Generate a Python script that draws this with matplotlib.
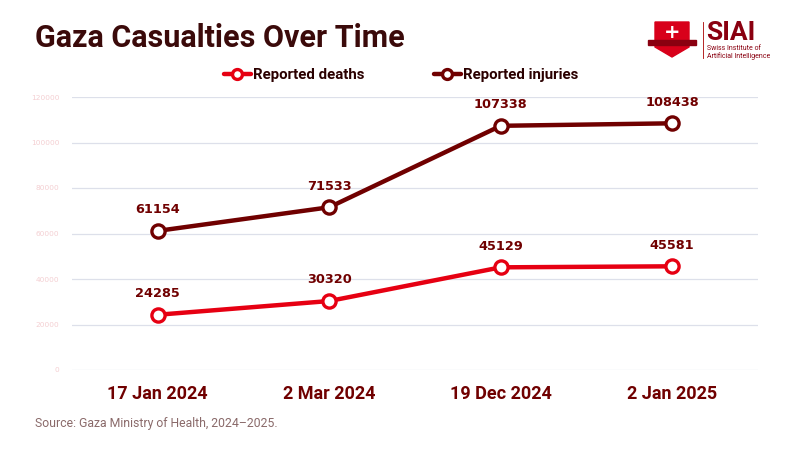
import matplotlib
matplotlib.use("Agg")
import matplotlib.pyplot as plt
from matplotlib import font_manager
from matplotlib.patches import Polygon, Rectangle

names = {f.name for f in font_manager.fontManager.ttflist}
COND = "Liberation Sans Narrow" if "Liberation Sans Narrow" in names else "Roboto"

categories = ["17 Jan 2024", "2 Mar 2024", "19 Dec 2024", "2 Jan 2025"]
deaths = [24285, 30320, 45129, 45581]
injuries = [61154, 71533, 107338, 108438]
yticks = [0, 20000, 40000, 60000, 80000, 100000, 120000]

C_DEATH = "#e60012"
C_INJ = "#700000"

fig = plt.figure(figsize=(8, 4.5), dpi=100)
ax = fig.add_axes([72 / 800, 1 - 370 / 450, 686 / 800, 273 / 450])

x = list(range(len(categories)))
for vals, col, lab in [(deaths, C_DEATH, "Reported deaths"), (injuries, C_INJ, "Reported injuries")]:
    ax.plot(x, vals, color=col, lw=3.2, marker="o", ms=9.5, mfc="white", mec=col, mew=2.4,
            label=lab, zorder=3, solid_capstyle="round")
    for xi, v in zip(x, vals):
        ax.annotate(f"{v}", (xi, v), xytext=(0, 10.5), textcoords="offset points", ha="center",
                    va="bottom", fontsize=9.3, fontweight="bold", color=C_INJ, family="DejaVu Sans")

ax.set_xlim(-0.5, 3.5)
ax.set_ylim(0, 120000)
ax.set_yticks(yticks)
ax.set_yticklabels([str(t) for t in yticks], fontsize=5.3, color="#f4cfd2", family="DejaVu Sans")
ax.set_xticks(x)
ax.set_xticklabels(categories, fontsize=13, fontweight="bold", color=C_INJ, family=COND)
ax.tick_params(axis="both", length=0)
ax.tick_params(axis="x", pad=11)
ax.tick_params(axis="y", pad=9)
ax.grid(axis="y", color="#dde0ea", lw=0.9)
ax.set_axisbelow(True)
for s in ax.spines.values():
    s.set_visible(False)

leg = fig.legend(loc="center", bbox_to_anchor=(401 / 800, 1 - 75 / 450), ncol=2, frameon=False,
                 prop={"family": COND, "weight": "bold", "size": 10.8}, handlelength=1.8,
                 handletextpad=0.15, columnspacing=4.6, markerscale=0.75)
for t in leg.get_texts():
    t.set_color("#2b0000")

fig.text(35 / 800, 1 - 38 / 450, "Gaza Casualties Over Time", fontsize=22, fontweight="bold",
         color="#3b0a0a", family=COND, va="center", ha="left")
fig.text(35 / 800, 1 - 423 / 450, "Source: Gaza Ministry of Health, 2024\u20132025.", fontsize=8.8,
         color="#8a6a6a", family=COND, va="center", ha="left")

# logo
def fx(px):
    return px / 800
def fy(py):
    return 1 - py / 450
shield = Polygon([(fx(655), fy(22)), (fx(689), fy(22)), (fx(689), fy(47)), (fx(672), fy(57)),
                  (fx(655), fy(47))], closed=True, transform=fig.transFigure, color="#d8001a")
fig.patches.append(shield)
banner = Rectangle((fx(648), fy(45)), fx(48), 5 / 450, transform=fig.transFigure, color="#8a0010")
fig.patches.append(banner)
fig.text(fx(672), fy(32), "+", fontsize=14, fontweight="bold", color="white", ha="center", va="center")
fig.add_artist(plt.Line2D([fx(703), fx(703)], [fy(22), fy(58)], transform=fig.transFigure, color="#a00", lw=0.6))
fig.text(fx(706), fy(33), "SIAI", fontsize=19, fontweight="bold", color="#8a0010", family=COND, va="center")
fig.text(fx(707), fy(49), "Swiss Institute of", fontsize=5, color="#8a0010", family=COND, va="center")
fig.text(fx(707), fy(56), "Artificial Intelligence", fontsize=5, color="#8a0010", family=COND, va="center")

fig.savefig("out.png", dpi=100, facecolor="white")
